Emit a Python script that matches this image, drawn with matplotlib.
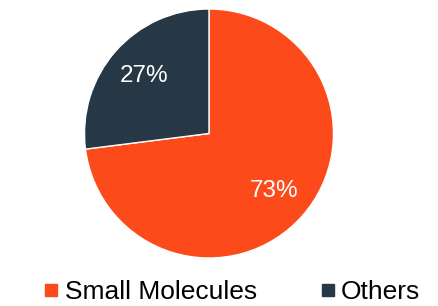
import matplotlib
matplotlib.use("Agg")
import matplotlib.pyplot as plt
from matplotlib.lines import Line2D

plt.rcParams['font.family'] = ['Liberation Sans', 'DejaVu Sans']

categories = ["Small Molecules", "Others"]
values = [73, 27]
colors = ["#FC4A1A", "#263746"]

W, H = 439, 306
fig = plt.figure(figsize=(W/100, H/100), dpi=100)
cx, cy, r = 209, 133.5, 124.5
ax = fig.add_axes([(cx - r)/W, (H - cy - r)/H, 2*r/W, 2*r/H])
wedges, texts, autotexts = ax.pie(values, colors=colors, startangle=90, counterclock=False,
                                  autopct='%d%%', pctdistance=0.7,
                                  wedgeprops=dict(edgecolor='white', linewidth=1),
                                  textprops=dict(color='white', fontsize=17.5))
ax.set_xlim(-1, 1)
ax.set_ylim(-1, 1)
ax.set_aspect('equal')
ax.axis('off')

handles = [Line2D([0], [0], marker='s', linestyle='none', markersize=8,
                  markerfacecolor=c, markeredgecolor=c) for c in colors]
fig.legend(handles, categories, loc='center', bbox_to_anchor=(232/W, 1 - 292/H),
           ncol=2, frameon=False, fontsize=19, handlelength=0.6, handletextpad=0.2,
           columnspacing=2.4, borderpad=0, borderaxespad=0)
fig.savefig("out.png", dpi=100)
